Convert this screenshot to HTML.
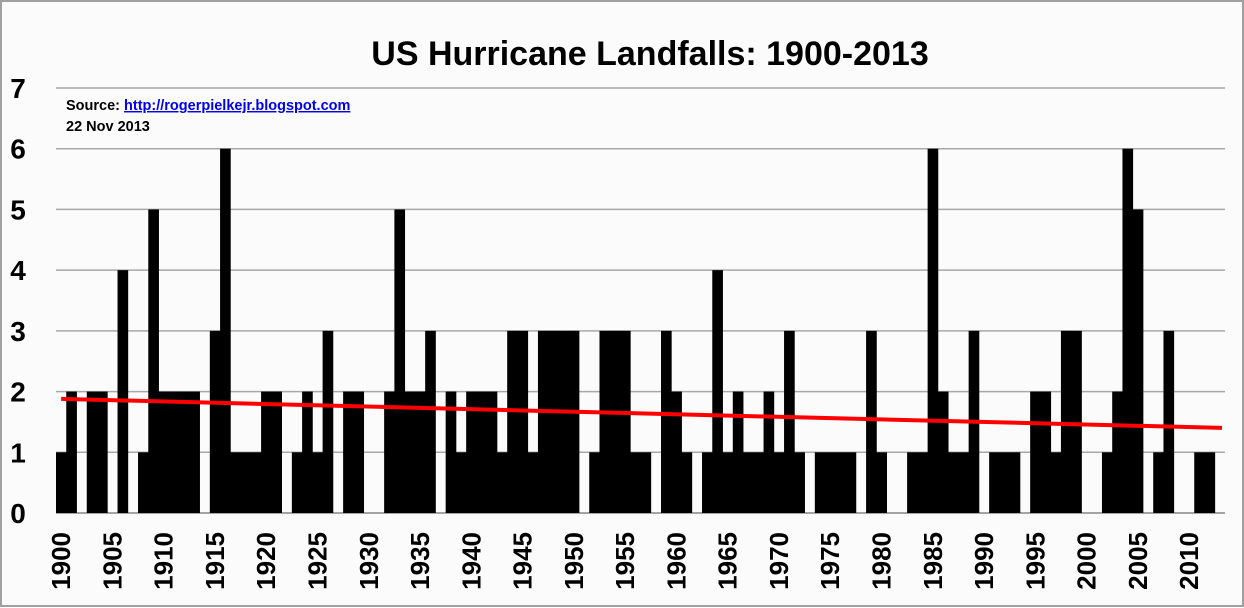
<!DOCTYPE html>
<html><head><meta charset="utf-8"><style>
body{margin:0;background:#fff}
svg{display:block;font-family:"Liberation Sans",sans-serif}
</style></head><body>
<svg id="chart" width="1244" height="608">
<rect x="1" y="1" width="1242" height="605" fill="#fbfbfb" stroke="#a0a0a0" stroke-width="2"/>
<text x="650" y="65" text-anchor="middle" font-size="34" font-weight="bold" fill="#000">US Hurricane Landfalls: 1900-2013</text>
<text x="66" y="110" font-size="14.5" font-weight="bold">Source: <tspan fill="#0000ee" text-decoration="underline">http://rogerpielkejr.blogspot.com</tspan></text>
<text x="66" y="131" font-size="14.5" font-weight="bold">22 Nov 2013</text>
<g id="grid"></g><g id="bars"></g><g id="yticks"></g><g id="xticks"></g><g id="trend"></g>
</svg>
<script>
const startYear = 1900;
const landfalls = [1,2,0,2,2,0,4,0,1,5, 2,2,2,2,0,3,6,1,1,1, 2,2,0,1,2,1,3,0,2,2,
 0,0,2,5,2,2,3,0,2,1, 2,2,2,1,3,3,1,3,3,3, 3,0,1,3,3,3,1,1,0,3, 2,1,0,1,4,1,2,1,1,2,
 1,3,1,0,1,1,1,1,0,3, 1,0,0,1,1,6,2,1,1,3, 0,1,1,1,0,2,2,1,3,3, 0,0,1,2,6,5,0,1,3,0, 0,1,1,0];
const yTicks = [0,1,2,3,4,5,6,7];
const xTickYears = [1900,1905,1910,1915,1920,1925,1930,1935,1940,1945,1950,1955,1960,1965,1970,1975,1980,1985,1990,1995,2000,2005,2010];

const NS="http://www.w3.org/2000/svg";
const X0=56, X1=1225, Y0=513, Y7=88;
const bw=(X1-X0)/landfalls.length;
const xs=i=>X0+bw*i;
const ys=v=>Y0-(Y0-Y7)*v/7;
function mk(tag,attrs,parent){const e=document.createElementNS(NS,tag);for(const k in attrs)e.setAttribute(k,attrs[k]);document.getElementById(parent).appendChild(e);return e;}

yTicks.forEach(v=>{
  const l=mk('line',{x1:X0,x2:X1,y1:ys(v),y2:ys(v),stroke:v===0?'#888':'#a8a8a8','stroke-width':1.5},'grid');
  
  
  const t=mk('text',{x:18,y:ys(v)+10,'text-anchor':'middle','font-size':28,'font-weight':'bold'},'yticks');
  t.textContent=v;
  
  
});
landfalls.forEach((v,i)=>{
  if(v<=0)return;
  const r=mk('rect',{x:xs(i),y:ys(v),width:bw+0.4,height:Y0-ys(v),fill:'#000'},'bars');
  
  
});
xTickYears.forEach(yr=>{
  const cx=xs(yr-startYear)+bw/2+9;
  const t=mk('text',{x:0,y:0,'text-anchor':'end','font-size':26,'font-weight':'bold',transform:`translate(${cx},532) rotate(-90)`},'xticks');
  t.textContent=yr;
  
  
});
const n=landfalls.length;let sx=0,sy=0,sxx=0,sxy=0;
landfalls.forEach((v,i)=>{sx+=i;sy+=v;sxx+=i*i;sxy+=i*v;});
const slope=(n*sxy-sx*sy)/(n*sxx-sx*sx), icpt=(sy-slope*sx)/n;
const tl=mk('line',{x1:xs(0)+bw/2,y1:ys(icpt),x2:X1-3,y2:ys(icpt+slope*(n-1)),stroke:'#ff0000','stroke-width':4},'trend');


</script>
</body></html>
